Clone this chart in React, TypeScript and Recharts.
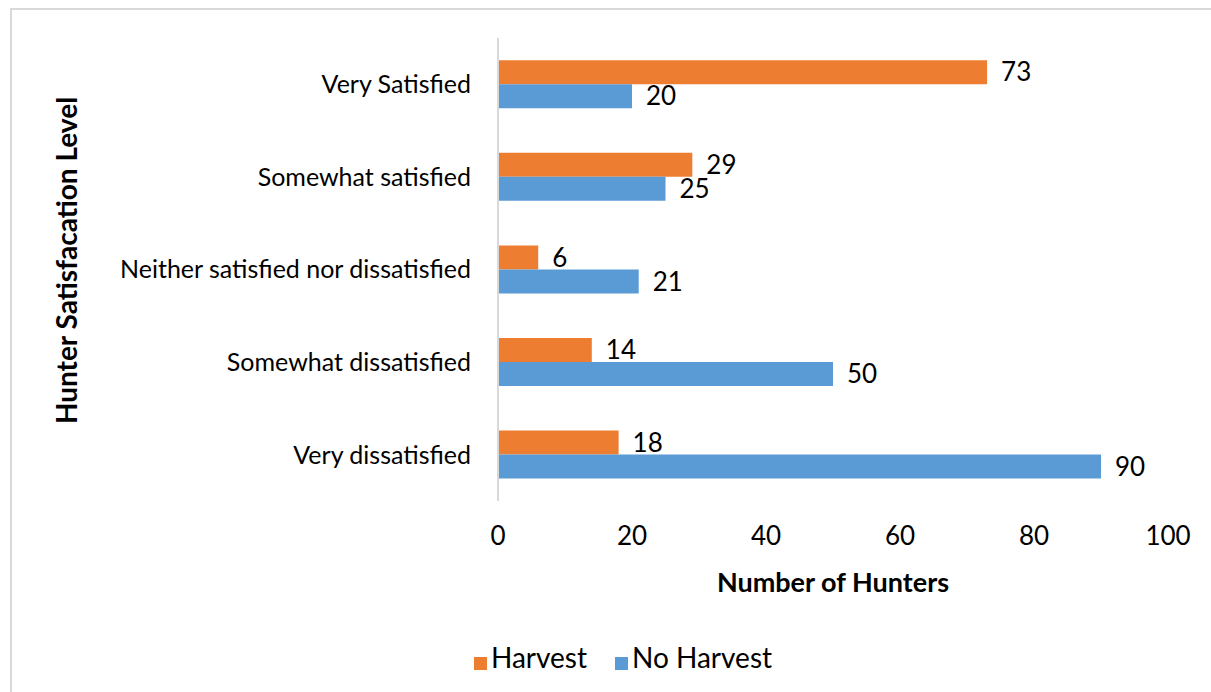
import React from "react"
import { Bar, BarChart, XAxis, YAxis, Legend, LabelList, Label } from "recharts"

// satisfaction categories, top to bottom
const levels = [
  "Very Satisfied",
  "Somewhat satisfied",
  "Neither satisfied nor dissatisfied",
  "Somewhat dissatisfied",
  "Very dissatisfied",
]
const harvest = [73, 29, 6, 14, 18]
const noHarvest = [20, 25, 21, 50, 90]
const xTicks = [0, 20, 40, 60, 80, 100]

const data = levels.map((level, i) => ({
  level,
  harvest: harvest[i],
  noHarvest: noHarvest[i],
}))

const FONT = "Lato, 'Open Sans', sans-serif"

const YTitle = (props: any) => {
  const { viewBox } = props
  const x = viewBox.x + 56
  const y = viewBox.y + viewBox.height / 2 - 9
  return (
    <text
      x={x}
      y={y}
      transform={`rotate(-90, ${x}, ${y})`}
      textAnchor="middle"
      dominantBaseline="central"
      fontSize={28}
      fontWeight="bold"
      fontFamily={FONT}
      fill="#000"
    >
      Hunter Satisfacation Level
    </text>
  )
}

export default function App() {
  return (
    <div
      style={{
        position: "fixed",
        left: 0,
        top: 0,
        width: 1211,
        height: 692,
        overflow: "hidden",
        background: "#fff",
      }}
    >
      <div
        style={{
          position: "absolute",
          left: 10,
          top: 8,
          width: 1240,
          height: 720,
          border: "2px solid #D9D9D9",
        }}
      />
      <div style={{ position: "absolute", left: 0, top: 0 }}>
        <BarChart
          width={1211}
          height={692}
          data={data}
          layout="vertical"
          margin={{ top: 38, right: 43, bottom: 12, left: 10 }}
          barCategoryGap="24%"
          barGap={0}
          style={{ fontFamily: FONT }}
        >
          <XAxis
            type="number"
            domain={[0, 100]}
            ticks={xTicks}
            axisLine={false}
            tickLine={false}
            tickSize={0}
            tickMargin={26}
            height={139}
            tick={{ fill: "#000", fontSize: 26, fontFamily: FONT }}
          >
            <Label
              value="Number of Hunters"
              position="insideTop"
              offset={72}
              fill="#000"
              fontSize={27}
              fontWeight="bold"
              fontFamily={FONT}
            />
          </XAxis>
          <YAxis
            type="category"
            dataKey="level"
            width={488}
            axisLine={{ stroke: "#D9D9D9", strokeWidth: 2 }}
            tickLine={false}
            tickSize={0}
            tickMargin={27}
            tick={{ fill: "#000", fontSize: 25, fontFamily: FONT }}
            interval={0}
          >
            <Label content={YTitle} />
          </YAxis>
          <Legend
            verticalAlign="bottom"
            height={40}
            iconType="square"
            iconSize={13}
            wrapperStyle={{ left: 49 }}
            formatter={(value: string) => (
              <span
                style={{
                  color: "#000",
                  fontSize: 28,
                  marginRight: value === "Harvest" ? 18 : 0,
                  fontFamily: FONT,
                }}
              >
                {value}
              </span>
            )}
          />
          <Bar dataKey="harvest" name="Harvest" fill="#ED7D31" isAnimationActive={false}>
            <LabelList dataKey="harvest" position="right" offset={14} fill="#000" fontSize={26} fontFamily={FONT} />
          </Bar>
          <Bar dataKey="noHarvest" name="No Harvest" fill="#5B9BD5" isAnimationActive={false}>
            <LabelList dataKey="noHarvest" position="right" offset={14} fill="#000" fontSize={26} fontFamily={FONT} />
          </Bar>
        </BarChart>
      </div>
    </div>
  )
}
